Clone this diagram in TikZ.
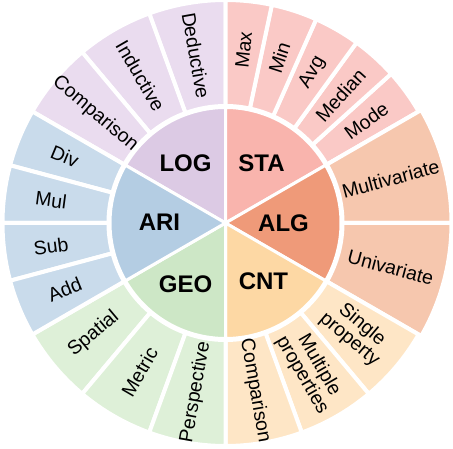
\documentclass[tikz,border=0pt]{standalone}
\usepackage{fontspec}
\setmainfont{Liberation Sans}
\begin{document}
\definecolor{logIn}{HTML}{DCCAE4}
\definecolor{logOut}{HTML}{EADCEF}
\definecolor{staIn}{HTML}{F9B4AD}
\definecolor{staOut}{HTML}{FAC9C6}
\definecolor{algIn}{HTML}{EF9A79}
\definecolor{algOut}{HTML}{F6C7AE}
\definecolor{cntIn}{HTML}{FDD8A4}
\definecolor{cntOut}{HTML}{FEE6C6}
\definecolor{geoIn}{HTML}{CDE7C6}
\definecolor{geoOut}{HTML}{DEF0D8}
\definecolor{ariIn}{HTML}{B4CDE3}
\definecolor{ariOut}{HTML}{C9DBEB}
% ring segment: start angle, end angle, outer radius, colour
\newcommand\ringseg[4]{%
  \filldraw[fill=#4, segedge] (#1:117pt) -- (#1:#3) arc[start angle=#1, end angle=#2, radius=#3]
    -- (#2:117pt) arc[start angle=#2, end angle=#1, radius=117pt] -- cycle;}
% inner wedge: start angle, end angle, colour
\newcommand\corewedge[3]{%
  \filldraw[fill=#3, coreedge] (0,0) -- (#1:115.5pt) arc[start angle=#1, end angle=#2, radius=115.5pt] -- cycle;}
\begin{tikzpicture}[
  segedge/.style={draw=white, line width=4pt, line join=miter},
  coreedge/.style={draw=white, line width=3pt, line join=miter},
  leaf/.style={font=\fontsize{19.5}{19.5}\selectfont, align=center, inner sep=0pt},
  core/.style={font=\fontsize{24}{24}\selectfont\bfseries, inner sep=0pt}]
\useasboundingbox (0,0) rectangle (453pt,448pt);
\begin{scope}[shift={(225.5pt,225pt)}]
  % inner disc
  \corewedge{90}{150}{logIn}
  \corewedge{30}{90}{staIn}
  \corewedge{-30}{30}{algIn}
  \corewedge{-90}{-30}{cntIn}
  \corewedge{-150}{-90}{geoIn}
  \corewedge{150}{210}{ariIn}
  % LOG ring
  \ringseg{90}{110}{223pt}{logOut}
  \ringseg{110}{130}{223pt}{logOut}
  \ringseg{130}{150}{223pt}{logOut}
  % STA ring
  \ringseg{30}{42}{223pt}{staOut}
  \ringseg{42}{54}{223pt}{staOut}
  \ringseg{54}{66}{223pt}{staOut}
  \ringseg{66}{78}{223pt}{staOut}
  \ringseg{78}{90}{223pt}{staOut}
  % ALG ring
  \ringseg{0}{30}{226pt}{algOut}
  \ringseg{-30}{0}{226pt}{algOut}
  % CNT ring
  \ringseg{-50}{-30}{223pt}{cntOut}
  \ringseg{-70}{-50}{223pt}{cntOut}
  \ringseg{-90}{-70}{223pt}{cntOut}
  % GEO ring
  \ringseg{-150}{-130}{223pt}{geoOut}
  \ringseg{-130}{-110}{223pt}{geoOut}
  \ringseg{-110}{-90}{223pt}{geoOut}
  % ARI ring
  \ringseg{150}{165}{223pt}{ariOut}
  \ringseg{165}{180}{223pt}{ariOut}
  \ringseg{180}{195}{223pt}{ariOut}
  \ringseg{195}{210}{223pt}{ariOut}
  % category labels
  \node[core] (log) at (-40pt,60pt) {LOG};
  \node[core] (sta) at (36pt,60pt) {STA};
  \node[core] (alg) at (58pt,0pt) {ALG};
  \node[core] (cnt) at (38pt,-58pt) {CNT};
  \node[core] (geo) at (-40pt,-61pt) {GEO};
  \node[core] (ari) at (-66pt,1pt) {ARI};
  % LOG leaves
  \node[leaf, rotate=-80] (deductive) at (100:170pt) {Deductive};
  \node[leaf, rotate=-60] (inductive) at (120:170pt) {Inductive};
  \node[leaf, rotate=-40] (logcomp) at (140:170pt) {Comparison};
  % STA leaves
  \node[leaf, rotate=84] (max) at (84:174pt) {Max};
  \node[leaf, rotate=72] (min) at (72:174pt) {Min};
  \node[leaf, rotate=60] (avg) at (60:174pt) {Avg};
  \node[leaf, rotate=48] (median) at (48:172pt) {Median};
  \node[leaf, rotate=36] (mode) at (36:174pt) {Mode};
  % ALG leaves
  \node[leaf, rotate=15] (multi) at (15:171pt) {Multivariate};
  \node[leaf, rotate=-15] (uni) at (-15:171pt) {Univariate};
  % CNT leaves
  \node[leaf, rotate=-40] (single) at (-40:170pt) {Single\\property};
  \node[leaf, rotate=-60] (multiple) at (-60:170pt) {Multiple\\properties};
  \node[leaf, rotate=-80] (cntcomp) at (-80:170pt) {Comparison};
  % GEO leaves
  \node[leaf, rotate=40] (spatial) at (-140:172pt) {Spatial};
  \node[leaf, rotate=60] (metric) at (-120:172pt) {Metric};
  \node[leaf, rotate=80] (persp) at (-100:172pt) {Perspective};
  % ARI leaves
  \node[leaf, rotate=-22.5] (div) at (157.5:174pt) {Div};
  \node[leaf, rotate=-7.5] (mul) at (172.5:176pt) {Mul};
  \node[leaf, rotate=7.5] (sub) at (187.5:176pt) {Sub};
  \node[leaf, rotate=22.5] (add) at (202.5:174pt) {Add};
\end{scope}
\end{tikzpicture}
\end{document}
